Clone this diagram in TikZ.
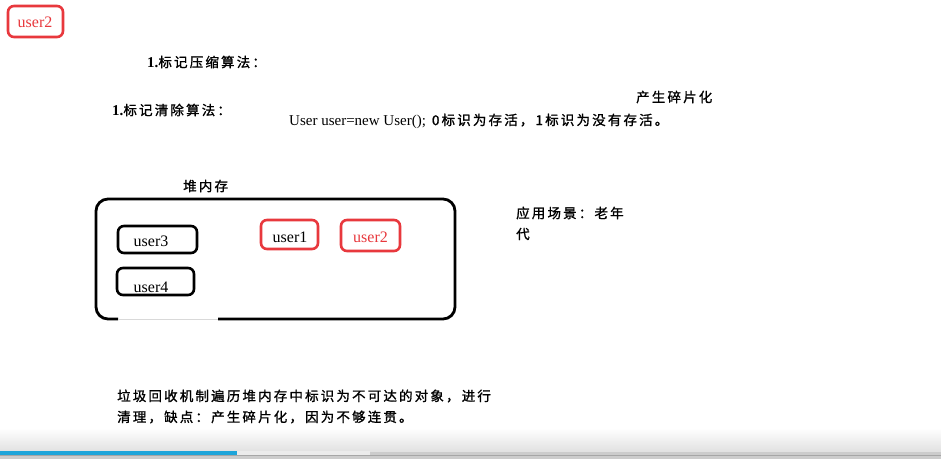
\documentclass[tikz,border=0pt]{standalone}
\usepackage{fontspec}
\setmainfont{Liberation Serif}
\newfontfamily\cjk[LetterSpace=16,FakeBold=1.2]{Noto Sans CJK SC}
\definecolor{ured}{HTML}{E8383D}
\definecolor{barblue}{HTML}{1EA5DA}
\tikzset{
  ubox/.style={draw, line width=2.6pt, rounded corners=6pt},
  redbox/.style={ubox, draw=ured},
  blkbox/.style={ubox, draw=black},
  lbl/.style={inner sep=0pt, font=\fontsize{16}{18}\selectfont},
  txt/.style={inner sep=0pt, anchor=west, font=\fontsize{13.5}{15}\selectfont},
}
\begin{document}
\begin{tikzpicture}[x=1pt,y=-1pt]
\useasboundingbox (0,0) rectangle (941,459);
\fill[white] (0,0) rectangle (941,459);
% bottom player bar
\shade[top color=white, bottom color=black!12] (0,428) rectangle (941,452);
\fill[black!20] (0,452) rectangle (941,459);
\fill[black!8] (0,451) rectangle (370,455);
\fill[barblue] (0,451) rectangle (237,455);
\draw[black!35, line width=0.8pt] (0,455.5) -- (941,455.5);

% top-left user2
\draw[redbox] (8,6) rectangle (63,37);
\node[lbl, text=ured] (tu2) at (35,22) {user2};

% headings
\node[txt] (h1) at (147,62) {{\fontsize{15}{15}\selectfont\bfseries 1.}\cjk 标记压缩算法：};
\node[txt] (h2) at (112,110) {{\fontsize{15}{15}\selectfont\bfseries 1.}\cjk 标记清除算法：};
\node[txt] (frag) at (636,97) {\cjk 产生碎片化};
\node[txt] (code) at (289,121) {{\fontsize{15}{15}\selectfont User user=new User();}\hspace{6pt}{\cjk 0标识为存活，1标识为没有存活。}};

% heap
\node[txt] (heap) at (183,186) {\cjk 堆内存};
\draw[line width=2.8pt, rounded corners=12pt] (118,319) -- (96,319) -- (96,199) -- (455,199) -- (455,319) -- (218,319);
\draw[black!15, line width=0.6pt] (118,319) -- (218,319);

\draw[blkbox] (118,226) rectangle (197,253);
\node[lbl] (u3) at (151,241) {user3};
\draw[blkbox] (117,268) rectangle (194,295);
\node[lbl] (u4) at (151,287) {user4};
\draw[redbox] (261,220) rectangle (318,249);
\node[lbl] (u1) at (290,237) {user1};
\draw[redbox] (341,220) rectangle (400,251);
\node[lbl, text=ured] (u2) at (370.5,237) {user2};

% side note
\node[txt] (app1) at (516,213) {\cjk 应用场景：老年};
\node[txt] (app2) at (516,234) {\cjk 代};

% bottom text
\node[txt] (b1) at (117,396) {\cjk 垃圾回收机制遍历堆内存中标识为不可达的对象，进行};
\node[txt] (b2) at (117,417) {\cjk 清理，缺点：产生碎片化，因为不够连贯。};
\end{tikzpicture}
\end{document}
